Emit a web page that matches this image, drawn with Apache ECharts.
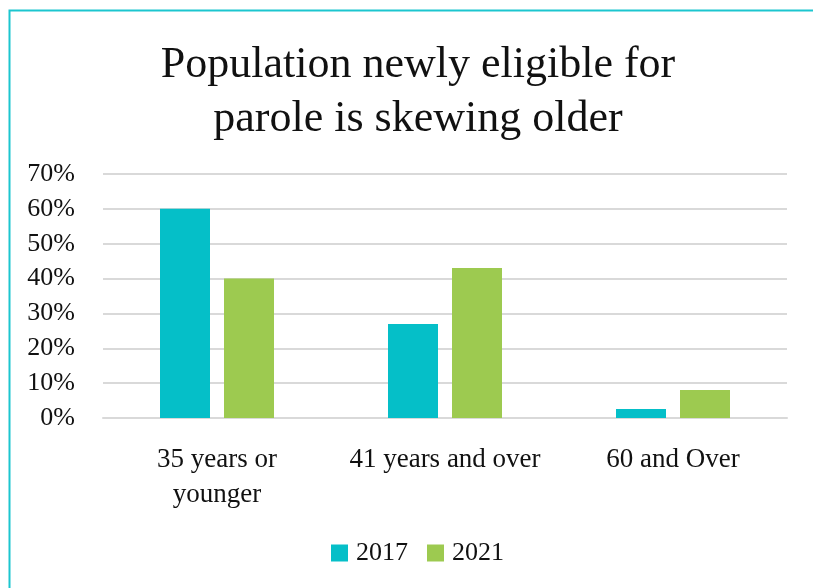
<!DOCTYPE html>
<html><head><meta charset="utf-8">
<script src="https://cdn.jsdelivr.net/npm/echarts@6/dist/echarts.min.js"></script>
<style>html,body{margin:0;padding:0;background:#fff;overflow:hidden}#c{width:813px;height:588px}</style>
</head><body><div id="c"></div>
<script>
const categories = ['35 years or\nyounger', '41 years and over', '60 and Over'];
const years = ['2017', '2021'];
const values2017 = [60, 27, 2.6];
const values2021 = [40, 43, 8];
const yTicks = { min: 0, max: 70, interval: 10 };
const colors = ['#05BFC8', '#9DCA50'];
const FONT = 'Liberation Serif';

const chart = echarts.init(document.getElementById('c'), null, { renderer: 'canvas' });
chart.setOption({
  animation: false,
  backgroundColor: '#fff',
  title: {
    text: 'Population newly eligible for\nparole is skewing older',
    left: 413, top: 33, textAlign: 'center',
    textStyle: { fontFamily: FONT, fontSize: 44, fontWeight: 'normal', color: '#111', lineHeight: 54 }
  },
  graphic: [{
    type: 'rect', shape: { x: 9.5, y: 10.5, width: 900, height: 700 },
    style: { fill: 'none', stroke: '#1CC6CF', lineWidth: 2 }, silent: true
  }],
  legend: {
    data: years, bottom: 17, left: 326, itemWidth: 17, itemHeight: 17, itemGap: 19,
    icon: 'rect',
    textStyle: { fontFamily: FONT, fontSize: 26, color: '#111', padding: [0, 0, 0, 3] }
  },
  grid: { left: 103, right: 26, top: 174, bottom: 170, containLabel: false },
  xAxis: {
    type: 'category', data: categories,
    axisLine: { show: true, lineStyle: { color: '#d9d9d9', width: 2 } },
    axisTick: { show: false },
    axisLabel: { fontFamily: FONT, fontSize: 27, color: '#111', margin: 24, lineHeight: 35, interval: 0 }
  },
  yAxis: {
    type: 'value', min: yTicks.min, max: yTicks.max, interval: yTicks.interval,
    axisLine: { show: false }, axisTick: { show: false },
    splitLine: { lineStyle: { color: '#d9d9d9', width: 2 } },
    axisLabel: { fontFamily: FONT, fontSize: 26, color: '#111', margin: 28, formatter: v => v + '%' }
  },
  series: [
    { name: years[0], type: 'bar', data: values2017, itemStyle: { color: colors[0] }, barWidth: 50, barGap: '28%' },
    { name: years[1], type: 'bar', data: values2021, itemStyle: { color: colors[1] }, barWidth: 50, barGap: '28%' }
  ]
});
</script></body></html>
